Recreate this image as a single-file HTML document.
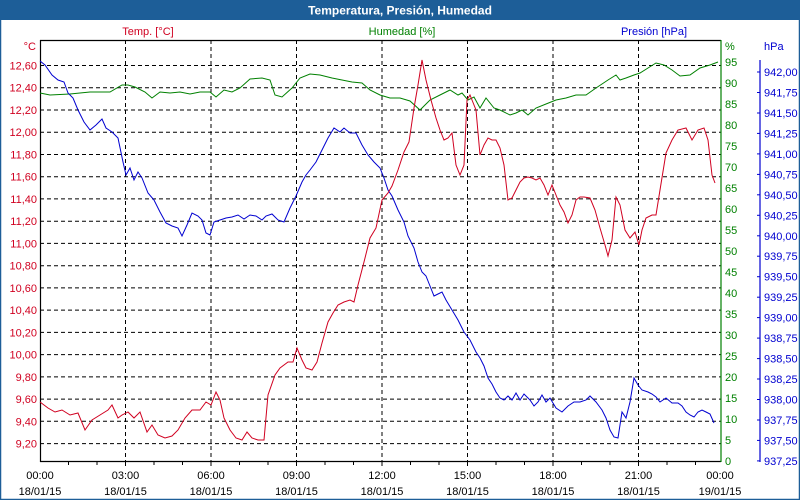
<!DOCTYPE html>
<html><head><meta charset="utf-8"><style>
html,body{margin:0;padding:0;background:#fff}
svg{display:block;font-family:"Liberation Sans",Arial,sans-serif}
</style></head><body>
<svg width="800" height="500" viewBox="0 0 800 500" xmlns="http://www.w3.org/2000/svg">
<rect x="0" y="0" width="800" height="500" fill="#fff"/>
<rect x="0.5" y="0.5" width="799" height="499" fill="none" stroke="#1d5e98" stroke-width="1.5"/>
<rect x="0" y="0" width="800" height="20" fill="#1d5e98"/>
<text x="400" y="14.5" font-size="12" font-weight="bold" fill="#fff" text-anchor="middle">Temperatura, Presión, Humedad</text>

<text x="148" y="35" font-size="11" fill="#d00020" text-anchor="middle">Temp. [°C]</text>
<text x="402" y="35" font-size="11" fill="#008000" text-anchor="middle">Humedad [%]</text>
<text x="654" y="35" font-size="11" fill="#0000d0" text-anchor="middle">Presión [hPa]</text>
<text x="36" y="50" font-size="11" fill="#d00020" text-anchor="end">°C</text>
<text x="725" y="50" font-size="11" fill="#008000">%</text>
<text x="764" y="50" font-size="11" fill="#0000d0">hPa</text>

<g stroke="#000" stroke-width="1" stroke-dasharray="4,3">
<line x1="40" y1="65.5" x2="721" y2="65.5"/><line x1="40" y1="87.7" x2="721" y2="87.7"/><line x1="40" y1="110" x2="721" y2="110"/><line x1="40" y1="132.2" x2="721" y2="132.2"/><line x1="40" y1="154.5" x2="721" y2="154.5"/><line x1="40" y1="176.7" x2="721" y2="176.7"/><line x1="40" y1="198.9" x2="721" y2="198.9"/><line x1="40" y1="221.2" x2="721" y2="221.2"/><line x1="40" y1="243.4" x2="721" y2="243.4"/><line x1="40" y1="265.7" x2="721" y2="265.7"/><line x1="40" y1="287.9" x2="721" y2="287.9"/><line x1="40" y1="310.1" x2="721" y2="310.1"/><line x1="40" y1="332.4" x2="721" y2="332.4"/><line x1="40" y1="354.6" x2="721" y2="354.6"/><line x1="40" y1="376.9" x2="721" y2="376.9"/><line x1="40" y1="399.1" x2="721" y2="399.1"/><line x1="40" y1="421.3" x2="721" y2="421.3"/><line x1="40" y1="443.6" x2="721" y2="443.6"/>
<line x1="125.5" y1="40" x2="125.5" y2="461"/><line x1="211" y1="40" x2="211" y2="461"/><line x1="296.5" y1="40" x2="296.5" y2="461"/><line x1="382" y1="40" x2="382" y2="461"/><line x1="467.5" y1="40" x2="467.5" y2="461"/><line x1="553" y1="40" x2="553" y2="461"/><line x1="638.5" y1="40" x2="638.5" y2="461"/>
</g>

<g stroke="#000" stroke-width="1.2" fill="none">
<line x1="40.5" y1="40" x2="40.5" y2="462"/>
<line x1="40" y1="40.5" x2="721" y2="40.5"/>
<line x1="40" y1="461.5" x2="721" y2="461.5"/>
</g>
<g stroke="#000" stroke-width="1">
<line x1="68.5" y1="461" x2="68.5" y2="465"/><line x1="97" y1="461" x2="97" y2="465"/><line x1="125.5" y1="461" x2="125.5" y2="466"/><line x1="154" y1="461" x2="154" y2="465"/><line x1="182.5" y1="461" x2="182.5" y2="465"/><line x1="211" y1="461" x2="211" y2="466"/><line x1="239.5" y1="461" x2="239.5" y2="465"/><line x1="268" y1="461" x2="268" y2="465"/><line x1="296.5" y1="461" x2="296.5" y2="466"/><line x1="325" y1="461" x2="325" y2="465"/><line x1="353.5" y1="461" x2="353.5" y2="465"/><line x1="382" y1="461" x2="382" y2="466"/><line x1="410.5" y1="461" x2="410.5" y2="465"/><line x1="439" y1="461" x2="439" y2="465"/><line x1="467.5" y1="461" x2="467.5" y2="466"/><line x1="496" y1="461" x2="496" y2="465"/><line x1="524.5" y1="461" x2="524.5" y2="465"/><line x1="553" y1="461" x2="553" y2="466"/><line x1="581.5" y1="461" x2="581.5" y2="465"/><line x1="610" y1="461" x2="610" y2="465"/><line x1="638.5" y1="461" x2="638.5" y2="466"/><line x1="667" y1="461" x2="667" y2="465"/><line x1="695.5" y1="461" x2="695.5" y2="465"/>
</g>

<g stroke="#008000" stroke-width="1.2"><line x1="721" y1="40" x2="721" y2="462"/></g>
<g stroke="#0000d0" stroke-width="1.2"><line x1="760" y1="60" x2="760" y2="462"/></g>

<g font-size="11" fill="#d00020" text-anchor="end">
<text x="37" y="69.5">12,60</text><text x="37" y="91.7">12,40</text><text x="37" y="114">12,20</text><text x="37" y="136.2">12,00</text><text x="37" y="158.5">11,80</text><text x="37" y="180.7">11,60</text><text x="37" y="202.9">11,40</text><text x="37" y="225.2">11,20</text><text x="37" y="247.4">11,00</text><text x="37" y="269.7">10,80</text><text x="37" y="291.9">10,60</text><text x="37" y="314.1">10,40</text><text x="37" y="336.4">10,20</text><text x="37" y="358.6">10,00</text><text x="37" y="380.9">9,80</text><text x="37" y="403.1">9,60</text><text x="37" y="425.3">9,40</text><text x="37" y="447.6">9,20</text>
</g>

<g font-size="11" fill="#008000">
<text x="725" y="66">95</text><text x="725" y="87">90</text><text x="725" y="108">85</text><text x="725" y="129">80</text><text x="725" y="150">75</text><text x="725" y="171">70</text><text x="725" y="192">65</text><text x="725" y="213">60</text><text x="725" y="234">55</text><text x="725" y="255">50</text><text x="725" y="276">45</text><text x="725" y="297">40</text><text x="725" y="318">35</text><text x="725" y="339">30</text><text x="725" y="360">25</text><text x="725" y="381">20</text><text x="725" y="402">15</text><text x="725" y="423">10</text><text x="725" y="444">5</text><text x="725" y="465">0</text>
</g>

<g font-size="11" fill="#0000d0">
<text x="764" y="76">942,00</text><text x="764" y="96.5">941,75</text><text x="764" y="117">941,50</text><text x="764" y="137.4">941,25</text><text x="764" y="157.9">941,00</text><text x="764" y="178.4">940,75</text><text x="764" y="198.8">940,50</text><text x="764" y="219.3">940,25</text><text x="764" y="239.8">940,00</text><text x="764" y="260.2">939,75</text><text x="764" y="280.7">939,50</text><text x="764" y="301.2">939,25</text><text x="764" y="321.6">939,00</text><text x="764" y="342.1">938,75</text><text x="764" y="362.6">938,50</text><text x="764" y="383">938,25</text><text x="764" y="403.5">938,00</text><text x="764" y="424">937,75</text><text x="764" y="444.4">937,50</text><text x="764" y="464.9">937,25</text>
</g>
<g stroke="#0000d0" stroke-width="1">
<line x1="757" y1="72" x2="760" y2="72"/><line x1="757" y1="92.5" x2="760" y2="92.5"/><line x1="757" y1="113" x2="760" y2="113"/><line x1="757" y1="133.4" x2="760" y2="133.4"/><line x1="757" y1="153.9" x2="760" y2="153.9"/><line x1="757" y1="174.4" x2="760" y2="174.4"/><line x1="757" y1="194.8" x2="760" y2="194.8"/><line x1="757" y1="215.3" x2="760" y2="215.3"/><line x1="757" y1="235.8" x2="760" y2="235.8"/><line x1="757" y1="256.2" x2="760" y2="256.2"/><line x1="757" y1="276.7" x2="760" y2="276.7"/><line x1="757" y1="297.2" x2="760" y2="297.2"/><line x1="757" y1="317.6" x2="760" y2="317.6"/><line x1="757" y1="338.1" x2="760" y2="338.1"/><line x1="757" y1="358.6" x2="760" y2="358.6"/><line x1="757" y1="379" x2="760" y2="379"/><line x1="757" y1="399.5" x2="760" y2="399.5"/><line x1="757" y1="420" x2="760" y2="420"/><line x1="757" y1="440.4" x2="760" y2="440.4"/><line x1="757" y1="460.9" x2="760" y2="460.9"/>
</g>

<g font-size="11" fill="#000" text-anchor="middle">
<text x="40" y="479">00:00</text><text x="40" y="495">18/01/15</text>
<text x="125.5" y="479">03:00</text><text x="125.5" y="495">18/01/15</text>
<text x="211" y="479">06:00</text><text x="211" y="495">18/01/15</text>
<text x="296.5" y="479">09:00</text><text x="296.5" y="495">18/01/15</text>
<text x="382" y="479">12:00</text><text x="382" y="495">18/01/15</text>
<text x="467.5" y="479">15:00</text><text x="467.5" y="495">18/01/15</text>
<text x="553" y="479">18:00</text><text x="553" y="495">18/01/15</text>
<text x="638.5" y="479">21:00</text><text x="638.5" y="495">18/01/15</text>
<text x="720" y="479">00:00</text><text x="720" y="495">19/01/15</text>
</g>

<polyline fill="none" stroke="#008000" stroke-width="1" points="40,93 50,95 70,94 90,92 110,92 122,85 128,85 135,87 145,92 152,98 160,92 170,93 180,92 190,94 200,92 210,92 216,97 224,90 232,92 240,88 250,79 262,78 270,80 275,95 282,97 292,88 300,78 310,74 320,75 332,78 342,80 352,82 362,83 370,90 380,95 390,98 400,98 410,101 420,110 430,100 440,95 450,90 458,95 462,93 468,100 474,97 480,108 486,98 494,108 500,110 510,115 516,113 522,110 528,115 536,108 546,104 556,100 566,98 576,95 586,95 596,88 608,80 616,75 620,80 626,78 634,75 640,73 648,68 656,63 664,65 672,70 680,76 690,75 700,68 710,65 718,62"/>

<polyline fill="none" stroke="#0000d0" stroke-width="1" points="40,61 45,65 52,75 58,80 64,82 68,93 73,98 78,110 84,122 90,130 96,125 102,119 106,128 112,132 118,138 123,162 126,175 130,168 134,180 138,172 142,178 148,193 154,200 160,212 166,223 172,226 178,228 182,236 187,225 192,213 198,216 202,220 206,233 210,235 214,222 220,220 226,218 232,217 238,215 244,219 250,215 256,216 262,220 266,216 272,214 278,220 284,222 290,208 296,196 302,182 306,175 310,170 316,162 322,150 328,138 334,128 340,132 344,128 350,133 356,133 362,145 368,155 374,162 380,168 384,178 388,190 392,196 398,210 404,222 408,236 414,248 418,262 422,272 426,276 430,286 434,296 438,294 442,292 446,300 452,310 458,320 464,332 470,340 476,352 480,358 484,366 488,378 492,384 496,392 500,398 504,400 508,396 512,400 516,393 520,400 524,394 530,400 534,406 538,402 542,395 546,402 550,398 556,408 562,412 568,406 574,402 580,402 586,400 590,396 596,402 602,410 606,418 610,430 614,437 618,438 622,412 626,418 630,402 634,378 638,385 642,390 648,392 652,394 656,397 660,402 666,398 672,403 678,403 682,406 686,412 690,415 694,417 698,412 702,410 706,412 710,414 714,423"/>

<polyline fill="none" stroke="#d00020" stroke-width="1" points="40,402 48,408 55,412 62,410 70,415 78,413 85,430 92,420 100,415 108,410 112,405 118,418 122,415 128,412 134,418 140,412 147,432 152,425 158,435 165,438 172,436 178,430 185,418 192,410 200,410 206,402 211,405 216,392 220,400 224,418 230,430 236,438 242,440 247,432 252,438 258,440 264,440 268,395 275,375 280,368 288,362 293,362 297,348 302,360 306,368 312,370 317,362 322,343 328,322 333,313 338,305 344,302 350,300 354,302 358,285 364,262 370,238 376,228 382,200 388,193 392,186 398,170 404,152 409,142 414,108 418,85 422,60 426,80 431,100 436,118 440,130 444,140 448,138 452,133 456,165 460,175 464,165 467,100 470,95 472,100 476,110 480,155 484,145 488,138 492,140 496,140 500,148 504,165 508,200 512,198 516,190 520,182 524,178 528,177 532,178 536,180 540,178 544,185 548,195 552,185 556,195 560,205 564,212 568,223 572,215 576,200 580,197 584,197 590,198 595,210 600,228 605,245 608,256 612,240 616,197 620,205 625,230 630,238 635,232 639,245 642,230 646,218 652,215 656,215 660,190 666,153 672,140 678,130 686,128 692,140 698,130 704,128 708,140 712,175 715,183"/>
</svg>
</body></html>
